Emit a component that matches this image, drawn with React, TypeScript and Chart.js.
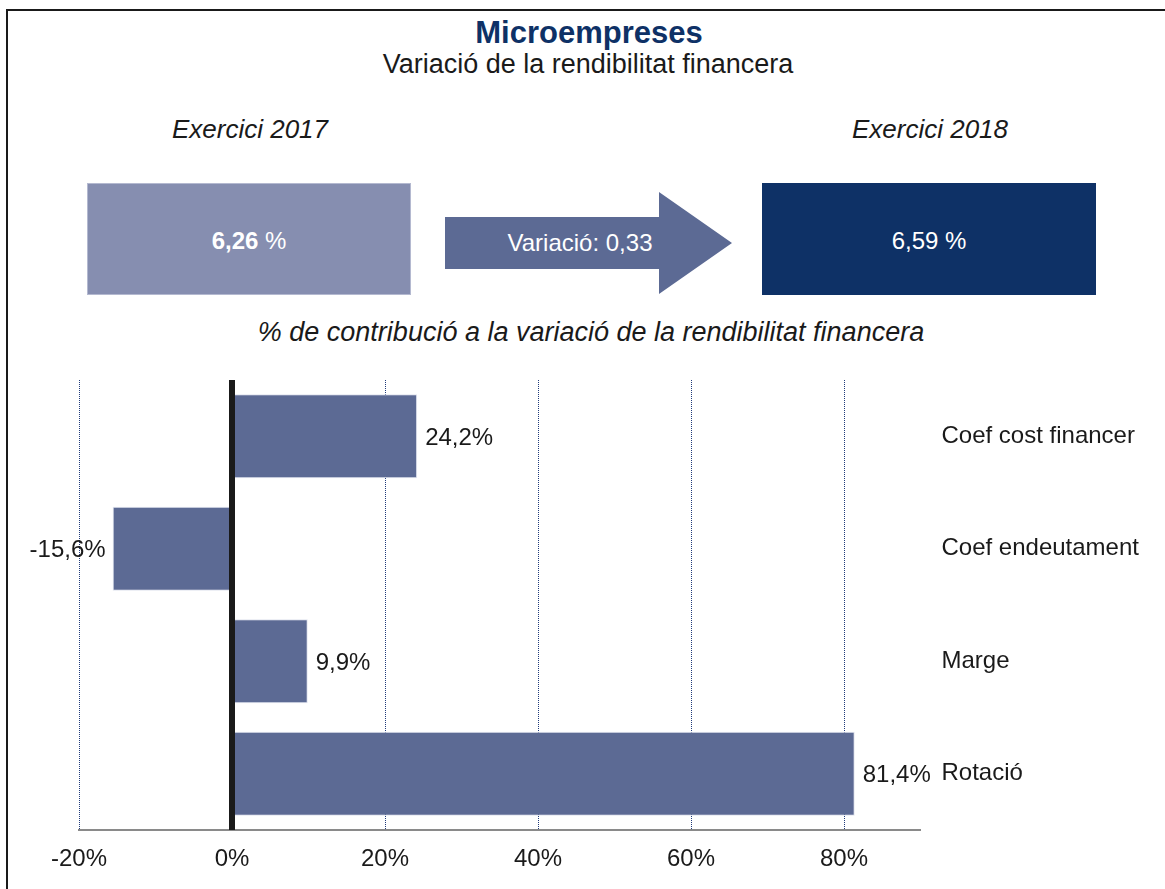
import React, { useEffect, useRef } from 'react';
import { Chart, registerables } from 'chart.js';

Chart.register(...registerables);

// ---- data ----
const categories = ['Coef cost financer', 'Coef endeutament', 'Marge', 'Rotació'];
const contributions = [24.2, -15.6, 9.9, 81.4];
const xTicks = [-20, 0, 20, 40, 60, 80];
const xMin = -20;
const xMax = 90;
const title = 'Microempreses';
const subtitle = 'Variació de la rendibilitat financera';
const yearLabels = ['Exercici 2017', 'Exercici 2018'];
const yearValues = ['6,26', '6,59'];
const variationLabel = 'Variació: 0,33';
const chartCaption = '% de contribució a la variació de la rendibilitat financera';

const FONT = "'Liberation Sans', Arial, Helvetica, sans-serif";
const BAR_COLOR = '#5c6a94';
const TEXT = '#1a1a1a';

function Txt(props: { cx: number; baseline: number; size: number; style?: any; children: any }) {
  const { cx, baseline, size, style, children } = props;
  const top = baseline - 0.8465 * size;
  return (
    <div
      style={{
        position: 'absolute',
        left: cx - 500,
        width: 1000,
        top,
        textAlign: 'center',
        fontSize: size,
        lineHeight: size + 'px',
        fontFamily: FONT,
        whiteSpace: 'nowrap',
        color: TEXT,
        ...style,
      }}
    >
      {children}
    </div>
  );
}

const fmt = (v: number) => v.toFixed(1).replace('.', ',') + '%';

const overlayPlugin = {
  id: 'overlay',
  afterDatasetsDraw(chart: any) {
    const { ctx, chartArea } = chart;
    const xs = chart.scales.x;
    const x0 = xs.getPixelForValue(0);
    ctx.save();
    ctx.strokeStyle = '#1a1a1a';
    ctx.lineWidth = 6;
    ctx.beginPath();
    ctx.moveTo(x0, chartArea.top);
    ctx.lineTo(x0, chartArea.bottom);
    ctx.stroke();

    const meta = chart.getDatasetMeta(0);
    ctx.font = `24px ${FONT}`;
    ctx.fillStyle = TEXT;
    ctx.textBaseline = 'middle';
    meta.data.forEach((bar: any, i: number) => {
      const v = contributions[i];
      if (v >= 0) {
        ctx.textAlign = 'left';
        ctx.fillText(fmt(v), bar.x + 8, bar.y + 2);
      } else {
        ctx.textAlign = 'right';
        ctx.fillText(fmt(v), bar.x - 7, bar.y + 2);
      }
    });
    ctx.restore();
  },
};

function BarChart() {
  const ref = useRef<HTMLCanvasElement | null>(null);
  useEffect(() => {
    if (!ref.current) return;
    const chart = new Chart(ref.current, {
      type: 'bar',
      data: {
        labels: categories,
        datasets: [
          {
            data: contributions,
            backgroundColor: BAR_COLOR,
            borderColor: 'rgba(220,224,236,0.9)',
            borderWidth: 1,
            borderSkipped: false,
            categoryPercentage: 1,
            barPercentage: 0.7467,
          },
        ],
      },
      options: {
        indexAxis: 'y',
        animation: false,
        responsive: false,
        maintainAspectRatio: false,
        events: [],
        layout: { padding: { top: 20, left: 79, right: 0, bottom: 0 } },
        plugins: {
          legend: { display: false },
          tooltip: { enabled: false },
          title: { display: false },
        },
        scales: {
          x: {
            type: 'linear',
            position: 'bottom',
            min: xMin,
            max: xMax,
            afterBuildTicks: (scale: any) => {
              scale.ticks = xTicks.map((v) => ({ value: v }));
            },
            afterFit: (scale: any) => {
              scale.height = 59;
            },
            ticks: {
              font: { family: FONT, size: 24 },
              color: TEXT,
              padding: 15,
              maxRotation: 0,
              autoSkip: false,
              callback: (v: any) => v + '%',
            },
            grid: {
              drawTicks: false,
              color: (c: any) => (c.tick && c.tick.value === 0 ? 'rgba(0,0,0,0)' : '#1f3a7a'),
              lineWidth: 1,
            },
            border: {
              display: true,
              color: '#8a8a8a',
              width: 2,
              dash: (c: any) => (c.tick ? [1, 1] : []),
            },
          },
          y: {
            type: 'category',
            position: 'right',
            afterFit: (scale: any) => {
              scale.width = 244.5;
              scale.paddingTop = 0;
              scale.paddingBottom = 0;
            },
            ticks: {
              font: { family: FONT, size: 24 },
              color: TEXT,
              padding: 21,
              crossAlign: 'near',
            },
            grid: { display: false, drawTicks: false },
            border: { display: false },
          },
        },
      },
      plugins: [overlayPlugin],
    } as any);
    return () => chart.destroy();
  }, []);
  return (
    <canvas
      ref={ref}
      width={1165}
      height={529}
      style={{ position: 'absolute', left: 0, top: 360, width: 1165, height: 529 }}
    />
  );
}

export default function App() {
  return (
    <div
      style={{
        position: 'fixed',
        left: 0,
        top: 0,
        width: 1165,
        height: 889,
        overflow: 'hidden',
        background: '#fff',
        fontFamily: FONT,
      }}
    >
      <div
        style={{
          position: 'absolute',
          left: 6,
          top: 9,
          width: 2000,
          height: 2000,
          borderLeft: '2px solid #1a1a1a',
          borderTop: '2px solid #1a1a1a',
        }}
      />
      <Txt cx={589} baseline={43} size={31} style={{ fontWeight: 'bold', color: '#0e3166' }}>
        {title}
      </Txt>
      <Txt cx={588} baseline={74} size={27}>
        {subtitle}
      </Txt>
      <Txt cx={250} baseline={138} size={26} style={{ fontStyle: 'italic' }}>
        {yearLabels[0]}
      </Txt>
      <Txt cx={930} baseline={138} size={26} style={{ fontStyle: 'italic' }}>
        {yearLabels[1]}
      </Txt>

      <div
        style={{
          position: 'absolute',
          left: 87,
          top: 183,
          width: 324,
          height: 112,
          background: '#868eb0',
          boxSizing: 'border-box',
          border: '1px solid #b4b9d0',
        }}
      />
      <Txt cx={249} baseline={249} size={24} style={{ color: '#fff' }}>
        <b>{yearValues[0]}</b> %
      </Txt>

      <svg
        width={1165}
        height={360}
        style={{ position: 'absolute', left: 0, top: 0 }}
      >
        <polygon
          points="445,217 659,217 659,192 732,243 659,294 659,269 445,269"
          fill={BAR_COLOR}
        />
      </svg>
      <Txt cx={580} baseline={251} size={24} style={{ color: '#fff' }}>
        {variationLabel}
      </Txt>

      <div
        style={{
          position: 'absolute',
          left: 762,
          top: 183,
          width: 334,
          height: 112,
          background: '#0e3166',
        }}
      />
      <Txt cx={929} baseline={249} size={24} style={{ color: '#fff' }}>
        {yearValues[1]} %
      </Txt>

      <Txt cx={591} baseline={342} size={27} style={{ fontStyle: 'italic' }}>
        {chartCaption}
      </Txt>

      <BarChart />
    </div>
  );
}
